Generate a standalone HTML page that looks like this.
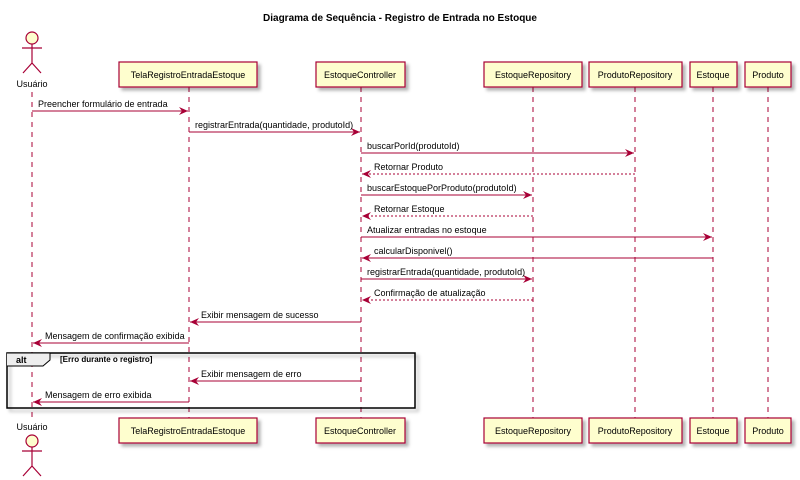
<!DOCTYPE html>
<html><head><meta charset="utf-8"><style>
html,body{margin:0;padding:0;background:#fff;}
svg{display:block;}
text{font-family:"Liberation Sans",sans-serif;font-size:9px;fill:#000;}
</style></head><body>
<svg width="800" height="480" viewBox="0 0 800 480" xmlns="http://www.w3.org/2000/svg">
<defs>
<marker id="a" markerWidth="10" markerHeight="8" refX="9" refY="4" orient="auto" markerUnits="userSpaceOnUse">
<path d="M0,0 L9,4 L0,8 L3,4 Z" fill="#A80036"/></marker>
<filter id="s" x="-10%" y="-10%" width="130%" height="150%"><feDropShadow dx="3" dy="3" stdDeviation="1.5" flood-color="#000" flood-opacity="0.3"/></filter>
</defs>
<text x="400" y="21" text-anchor="middle" style="font-weight:bold;font-size:10px">Diagrama de Sequência - Registro de Entrada no Estoque</text>

<g stroke="#A80036" stroke-width="1" stroke-dasharray="5,5">
<line x1="32" y1="92" x2="32" y2="418"/>
<line x1="189" y1="87" x2="189" y2="418"/>
<line x1="361" y1="87" x2="361" y2="418"/>
<line x1="533" y1="87" x2="533" y2="418"/>
<line x1="635" y1="87" x2="635" y2="418"/>
<line x1="713" y1="87" x2="713" y2="418"/>
<line x1="768" y1="87" x2="768" y2="418"/>
</g>

<g fill="#FEFECE" stroke="#A80036" stroke-width="1.2" filter="url(#s)">
<rect x="119" y="62" width="138" height="25"/>
<rect x="316" y="62" width="89" height="25"/>
<rect x="484" y="62" width="98" height="25"/>
<rect x="589" y="62" width="93" height="25"/>
<rect x="690" y="62" width="47" height="25"/>
<rect x="745" y="62" width="46" height="25"/>
<rect x="119" y="418" width="138" height="25"/>
<rect x="316" y="418" width="89" height="25"/>
<rect x="484" y="418" width="98" height="25"/>
<rect x="589" y="418" width="93" height="25"/>
<rect x="690" y="418" width="47" height="25"/>
<rect x="745" y="418" width="46" height="25"/>
</g>
<g text-anchor="middle">
<text x="188" y="78">TelaRegistroEntradaEstoque</text>
<text x="360" y="78">EstoqueController</text>
<text x="533" y="78">EstoqueRepository</text>
<text x="635" y="78">ProdutoRepository</text>
<text x="713" y="78">Estoque</text>
<text x="768" y="78">Produto</text>
<text x="188" y="434">TelaRegistroEntradaEstoque</text>
<text x="360" y="434">EstoqueController</text>
<text x="533" y="434">EstoqueRepository</text>
<text x="635" y="434">ProdutoRepository</text>
<text x="713" y="434">Estoque</text>
<text x="768" y="434">Produto</text>
<text x="32" y="87">Usuário</text>
<text x="32" y="430">Usuário</text>
</g>

<g stroke="#A80036" stroke-width="1.2" fill="#FEFECE">
<circle cx="32" cy="38" r="6"/>
<path d="M32,44 V63 M22,48 H42 M32,63 L23,73 M32,63 L41,73" fill="none"/>
<circle cx="32" cy="441" r="6"/>
<path d="M32,447 V466 M22,451 H42 M32,466 L23,476 M32,466 L41,476" fill="none"/>
</g>

<g stroke="#A80036" stroke-width="1" fill="none">
<line x1="32" y1="111" x2="188" y2="111" marker-end="url(#a)"/>
<line x1="189" y1="132" x2="360" y2="132" marker-end="url(#a)"/>
<line x1="361" y1="153" x2="634" y2="153" marker-end="url(#a)"/>
<line x1="635" y1="174" x2="362" y2="174" stroke-dasharray="2,2" marker-end="url(#a)" />
<line x1="361" y1="195" x2="532" y2="195" marker-end="url(#a)"/>
<line x1="533" y1="216" x2="362" y2="216" stroke-dasharray="2,2" marker-end="url(#a)"/>
<line x1="361" y1="237" x2="712" y2="237" marker-end="url(#a)"/>
<line x1="713" y1="258" x2="362" y2="258" marker-end="url(#a)"/>
<line x1="361" y1="279" x2="532" y2="279" marker-end="url(#a)"/>
<line x1="533" y1="300" x2="362" y2="300" stroke-dasharray="2,2" marker-end="url(#a)"/>
<line x1="361" y1="322" x2="190" y2="322" marker-end="url(#a)"/>
<line x1="189" y1="343" x2="33" y2="343" marker-end="url(#a)"/>
<line x1="361" y1="381" x2="190" y2="381" marker-end="url(#a)"/>
<line x1="189" y1="402" x2="33" y2="402" marker-end="url(#a)"/>
</g>
<text x="38" y="107">Preencher formulário de entrada</text>
<text x="195" y="128">registrarEntrada(quantidade, produtoId)</text>
<text x="367" y="149">buscarPorId(produtoId)</text>
<text x="374" y="170">Retornar Produto</text>
<text x="367" y="191">buscarEstoquePorProduto(produtoId)</text>
<text x="374" y="212">Retornar Estoque</text>
<text x="367" y="233">Atualizar entradas no estoque</text>
<text x="374" y="254">calcularDisponivel()</text>
<text x="367" y="275">registrarEntrada(quantidade, produtoId)</text>
<text x="374" y="296">Confirmação de atualização</text>
<text x="201" y="318">Exibir mensagem de sucesso</text>
<text x="45" y="339">Mensagem de confirmação exibida</text>
<text x="201" y="377">Exibir mensagem de erro</text>
<text x="45" y="398">Mensagem de erro exibida</text>

<g filter="url(#s)"><rect x="7" y="353" width="408" height="55" fill="none" stroke="#000" stroke-width="1.5"/></g>
<path d="M7,353 H50 V360 L43,366 H7" fill="#eee" stroke="#000" stroke-width="1"/>
<text x="16" y="363" style="font-weight:bold">alt</text>
<text x="60" y="362" style="font-weight:bold;font-size:8px">[Erro durante o registro]</text>
</svg>
</body></html>
